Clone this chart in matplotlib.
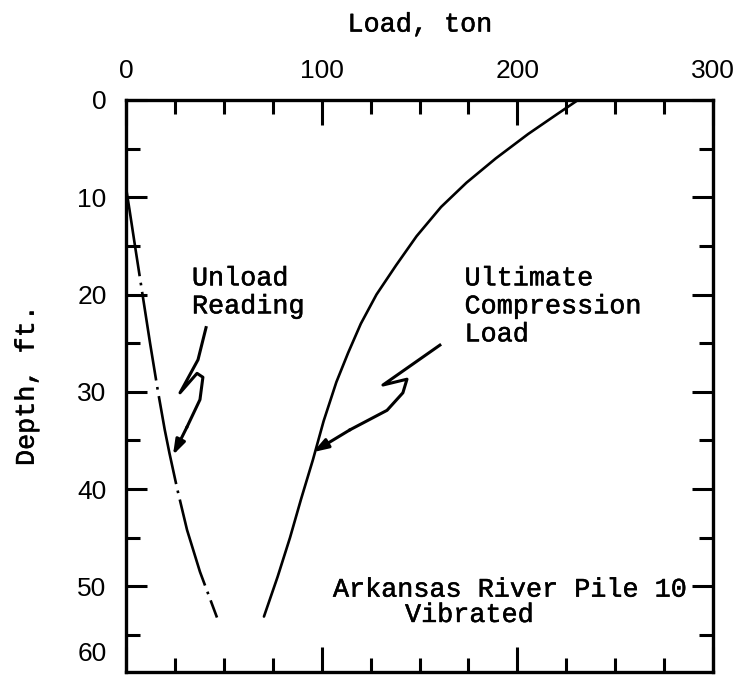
import numpy as np
import matplotlib.pyplot as plt
import matplotlib.transforms as mtransforms
import matplotlib.patheffects as pe

# Ultimate compression load distribution along the pile
comp_depth = [0, 1.5, 3.5, 6.0, 8.5, 11.0, 14.0, 17.0, 20.0, 23.0, 26.0, 29.0, 33.0, 37.0, 41.0, 45.0, 49.0, 53.1]
comp_load = [231, 220, 205.5, 189, 174, 161, 148.5, 138, 128, 120, 113.5, 107.5, 101, 95.5, 89.5, 83.8, 77.5, 70.5]

# Unload reading
unload_depth = [9.0, 11.3, 15.0, 20.2, 25.0, 29.8, 33.9, 36.3, 40.0, 44.2, 48.5, 53.2]
unload_load = [0, 1.8, 4.6, 8.6, 12.3, 16.2, 19.8, 22.2, 26.2, 31.2, 37.8, 46.5]

# hand-drawn squiggle leaders (load, depth)
unload_arrow_x = [40.9, 36.8, 27.6, 36.3, 39.3, 37.8, 31.2]
unload_arrow_y = [23.4, 26.7, 30.1, 28.1, 28.5, 30.8, 33.6]
unload_tip = (24.0, 36.5)

comp_arrow_x = [160.4, 131.3, 143.6, 141.5, 133.4, 114.5]
comp_arrow_y = [25.2, 29.3, 28.7, 30.1, 31.9, 33.9]
comp_tip = (95.6, 36.2)

mono = 'Liberation Mono'
nums = ['Liberation Sans Narrow', 'Liberation Sans', 'DejaVu Sans']
ink = [pe.withStroke(linewidth=0.35, foreground='black')]

fig = plt.figure(figsize=(7.36, 6.83), dpi=100)
ax = fig.add_axes([0.1712, 0.0161, 0.7976, 0.8375])

ax.plot(comp_load, comp_depth, color='black', lw=1.9, solid_capstyle='round',
        solid_joinstyle='round')
ax.plot(unload_load, unload_depth, color='black', lw=1.9,
        linestyle=(0, (34, 2.5, 1, 2.5)))

# leaders with filled heads
ax.plot(unload_arrow_x, unload_arrow_y, color='black', lw=2.2, solid_joinstyle='round')
ax.annotate('', xy=unload_tip, xytext=(unload_arrow_x[-1], unload_arrow_y[-1]),
            arrowprops=dict(arrowstyle='-|>,head_length=0.9,head_width=0.3',
                            color='black', lw=2.2, shrinkA=0, shrinkB=0))
ax.plot(comp_arrow_x, comp_arrow_y, color='black', lw=2.2, solid_joinstyle='round')
ax.annotate('', xy=comp_tip, xytext=(comp_arrow_x[-1], comp_arrow_y[-1]),
            arrowprops=dict(arrowstyle='-|>,head_length=0.9,head_width=0.3',
                            color='black', lw=2.2, shrinkA=0, shrinkB=0))

txt = dict(family=mono, fontsize=19.3, va='top', linespacing=1.1, path_effects=ink)
ax.text(33.7, 17.0, 'Unload\nReading', ha='left', **txt)
ax.text(173, 17.0, 'Ultimate\nCompression\nLoad', ha='left', **txt)
ax.text(195.7, 49.0, 'Arkansas River Pile 10', ha='center', **txt)
ax.text(142.6, 51.6, 'Vibrated', ha='left', **txt)

ax.set_xlim(0, 300)
ax.set_ylim(58.8, 0)

ax.set_xticks([0, 100, 200, 300])
ax.set_xticks(np.arange(0, 301, 25), minor=True)
ax.set_yticks([0, 10, 20, 30, 40, 50])
ax.set_yticks(np.arange(0, 60, 5), minor=True)

ax.xaxis.set_ticks_position('both')
ax.yaxis.set_ticks_position('both')
ax.tick_params(which='both', direction='in', width=2.2, color='black')
ax.tick_params(axis='x', which='major', length=18, labeltop=True, labelbottom=False, pad=12)
ax.tick_params(axis='x', which='minor', length=10)
ax.tick_params(axis='y', which='major', length=15, pad=14)
ax.tick_params(axis='y', which='minor', length=10)

for lab in ax.get_xticklabels() + ax.get_yticklabels():
    lab.set_family(nums)
    lab.set_fontsize(19)

# last depth label sits just above the cut-off bottom edge
trans = mtransforms.blended_transform_factory(ax.transAxes, ax.transData)
ax.text(-0.032, 57.0, '60', transform=trans, family=nums, fontsize=19,
        ha='right', va='center')

ax.xaxis.set_label_position('top')
ax.set_xlabel('Load, ton', family=mono, fontsize=19.3, labelpad=20, path_effects=ink)
ax.set_ylabel('Depth, ft.', family=mono, fontsize=19.3, labelpad=27, path_effects=ink)

for sp in ax.spines.values():
    sp.set_linewidth(2.4)

fig.savefig('out.png', dpi=100)
